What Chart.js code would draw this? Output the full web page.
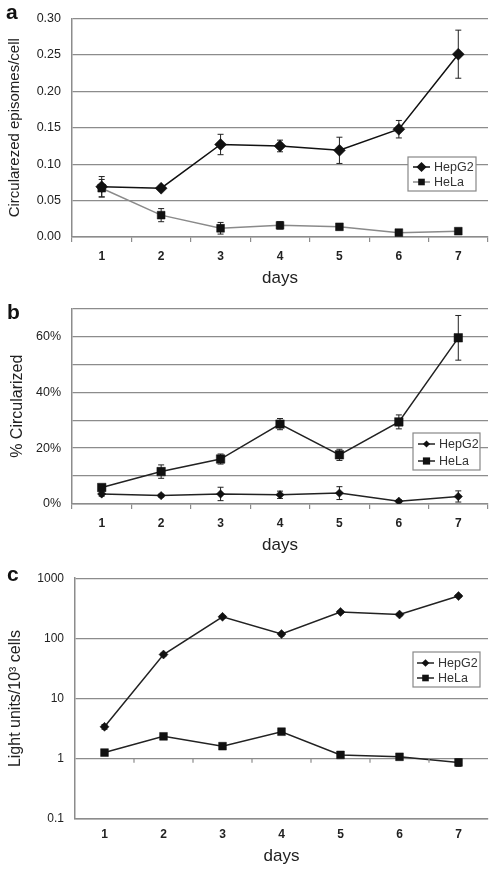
<!DOCTYPE html>
<html>
<head>
<meta charset="utf-8">
<script src="https://cdn.jsdelivr.net/npm/chart.js@4.4.0/dist/chart.umd.min.js"></script>
<style>
  body { margin: 0; background: #fff; width: 495px; height: 874px; overflow: hidden; position: relative; font-family: 'Liberation Sans', Arial, sans-serif; }
  .panel { position: absolute; left: 0; width: 495px; }
  .tag { position: absolute; font-weight: bold; font-size: 21px; line-height: 1; color: #111; }
</style>
</head>
<body>
<div class="panel" style="top:0;height:290px"><canvas id="chartA"></canvas></div>
<div class="panel" style="top:290px;height:270px"><canvas id="chartB"></canvas></div>
<div class="panel" style="top:560px;height:314px"><canvas id="chartC"></canvas></div>
<div class="tag" style="left:6px;top:1px">a</div>
<div class="tag" style="left:7px;top:301px">b</div>
<div class="tag" style="left:7px;top:563px">c</div>
<script>
const days = ['1', '2', '3', '4', '5', '6', '7'];

// a: circularized episomes per cell
const hepg2Episomes = [0.069, 0.067, 0.127, 0.125, 0.119, 0.148, 0.251];
const hepg2EpisomesErr = [0.014, 0.003, 0.014, 0.008, 0.018, 0.012, 0.033];
const helaEpisomes = [0.067, 0.030, 0.012, 0.016, 0.014, 0.006, 0.008];
const helaEpisomesErr = [0.012, 0.009, 0.008, 0.005, 0.004, 0.003, 0.002];

// b: % circularized
const hepg2Circ = [3.6, 3.0, 3.6, 3.3, 3.9, 1.0, 2.7];
const hepg2CircErr = [0.8, 0.5, 2.4, 1.3, 2.3, 0.5, 2.0];
const helaCirc = [5.9, 11.6, 16.1, 28.6, 17.6, 29.4, 59.5];
const helaCircErr = [0.8, 2.4, 1.8, 2.0, 2.0, 2.5, 8.0];

// c: light units / 10^3 cells (log)
const hepg2Light = [3.4, 54, 228, 118, 275, 249, 505];
const hepg2LightErr = [0.3, 3, 12, 8, 15, 12, 25];
const helaLight = [1.27, 2.36, 1.62, 2.82, 1.16, 1.08, 0.87];
const helaLightErr = [0.08, 0.15, 0.1, 0.15, 0.1, 0.06, 0.12];
const lightTicks = [0.1, 1, 10, 100, 1000];

const FONT = "'Liberation Sans', Arial, sans-serif";
const GRID = '#8c8c8c';
const TEXT = '#222';

function markerPath(ctx, style, x, y, r) {
  ctx.beginPath();
  if (style === 'rectRot') {
    ctx.moveTo(x, y - r); ctx.lineTo(x + r, y); ctx.lineTo(x, y + r); ctx.lineTo(x - r, y);
  } else {
    const s = r * Math.SQRT1_2;
    ctx.rect(x - s, y - s, 2 * s, 2 * s);
  }
  ctx.closePath();
}

const errorBars = {
  id: 'errorBars',
  beforeDatasetsDraw(chart) {
    const ctx = chart.ctx, yScale = chart.scales.y;
    ctx.save();
    ctx.strokeStyle = '#222';
    ctx.lineWidth = 1;
    chart.data.datasets.forEach((ds, i) => {
      if (!ds.errors) return;
      chart.getDatasetMeta(i).data.forEach((pt, j) => {
        const v = ds.data[j], e = ds.errors[j];
        if (!e) return;
        const top = yScale.getPixelForValue(v + e);
        const bot = yScale.getPixelForValue(v - e);
        ctx.beginPath();
        ctx.moveTo(pt.x, top); ctx.lineTo(pt.x, bot);
        ctx.moveTo(pt.x - 3, top); ctx.lineTo(pt.x + 3, top);
        ctx.moveTo(pt.x - 3, bot); ctx.lineTo(pt.x + 3, bot);
        ctx.stroke();
      });
    });
    ctx.restore();
  }
};

const legendBox = {
  id: 'legendBox',
  afterDatasetsDraw(chart, args, o) {
    if (!o || !o.w) return;
    const ctx = chart.ctx;
    ctx.save();
    ctx.fillStyle = '#fff';
    ctx.strokeStyle = '#888';
    ctx.lineWidth = 1.2;
    ctx.fillRect(o.x, o.y, o.w, o.h);
    ctx.strokeRect(o.x, o.y, o.w, o.h);
    chart.data.datasets.forEach((ds, i) => {
      const y = o.y + o.rowTop + i * o.rowGap;
      ctx.strokeStyle = ds.borderColor;
      ctx.lineWidth = ds.borderWidth;
      ctx.beginPath();
      ctx.moveTo(o.x + o.lineX, y); ctx.lineTo(o.x + o.lineX + 17, y);
      ctx.stroke();
      ctx.fillStyle = '#111';
      markerPath(ctx, ds.pointStyle, o.x + o.lineX + 8.5, y, ds.pointRadius * 0.85);
      ctx.fill();
      ctx.fillStyle = '#333';
      ctx.font = '12.5px ' + FONT;
      ctx.textBaseline = 'middle';
      ctx.fillText(ds.label, o.x + o.textX, y + 1);
    });
    ctx.restore();
  }
};

const axisCrossTicks = {
  id: 'axisCrossTicks',
  afterDatasetsDraw(chart, args, o) {
    if (!o || o.at === undefined) return;
    const ctx = chart.ctx, xs = chart.scales.x;
    const y = chart.scales.y.getPixelForValue(o.at);
    ctx.save();
    ctx.strokeStyle = GRID;
    ctx.lineWidth = 1.2;
    ctx.beginPath();
    for (let i = 0; i < days.length - 1; i++) {
      const x = (xs.getPixelForValue(i) + xs.getPixelForValue(i + 1)) / 2;
      ctx.moveTo(x, y); ctx.lineTo(x, y + 4);
    }
    ctx.stroke();
    ctx.restore();
  }
};

function series(label, data, errors, style, radius, color) {
  return {
    label: label, data: data, errors: errors,
    borderColor: color, borderWidth: 1.5,
    pointStyle: style, pointRadius: radius,
    pointBackgroundColor: '#111', pointBorderColor: '#111', pointBorderWidth: 0.5,
    tension: 0, fill: false
  };
}

function makePanel(id, datasets, o) {
  const xGrid = { drawOnChartArea: false, offset: true, color: GRID, lineWidth: 1.2 };
  if (o.tickLength) { xGrid.tickLength = o.tickLength; } else { xGrid.drawTicks = false; }
  return new Chart(document.getElementById(id), {
    type: 'line',
    data: { labels: days, datasets: datasets },
    plugins: [errorBars, legendBox, axisCrossTicks],
    options: {
      responsive: true, maintainAspectRatio: false, animation: false,
      layout: { padding: o.padding },
      plugins: {
        legend: { display: false }, tooltip: { enabled: false },
        legendBox: o.legend, axisCrossTicks: o.cross || {}
      },
      scales: {
        x: {
          offset: true,
          grid: xGrid,
          border: { color: GRID, width: 1.5 },
          ticks: { padding: o.xPad, color: TEXT, maxRotation: 0, font: { family: FONT, size: 12, weight: 'bold' } },
          title: { display: true, text: 'days', color: TEXT, font: { family: FONT, size: 17 }, padding: { top: 0, bottom: o.daysPad } },
          afterFit: s => { s.height = o.xHeight; }
        },
        y: Object.assign({
          grid: { color: GRID, lineWidth: 1.3, drawTicks: false },
          border: { color: GRID, width: 1.5 },
          title: { display: true, text: o.yTitle, color: TEXT, font: { family: FONT, size: o.yTitleSize }, padding: { top: o.yTitlePad, bottom: 0 } },
          afterFit: s => { s.width = o.yWidth; }
        }, o.y)
      }
    }
  });
}

makePanel('chartA', [
  series('HepG2', hepg2Episomes, hepg2EpisomesErr, 'rectRot', 6, '#111'),
  series('HeLa', helaEpisomes, helaEpisomesErr, 'rect', 5.5, '#8a8a8a')
], {
  padding: { top: 12, right: 7, left: 0, bottom: 0 },
  tickLength: 5, xPad: 7, daysPad: 1, xHeight: 53, yWidth: 72,
  yTitle: 'Circularezed episomes/cell', yTitleSize: 15, yTitlePad: 6,
  legend: { x: 408, y: 157, w: 68, h: 34, rowTop: 10, rowGap: 15, lineX: 5, textX: 26 },
  y: {
    min: 0, max: 0.3,
    ticks: { stepSize: 0.05, padding: 11, color: TEXT, font: { family: FONT, size: 12.5 }, callback: v => v.toFixed(2) }
  }
});

makePanel('chartB', [
  series('HepG2', hepg2Circ, hepg2CircErr, 'rectRot', 4.2, '#222'),
  series('HeLa', helaCirc, helaCircErr, 'rect', 6, '#222')
], {
  padding: { top: 17, right: 7, left: 0, bottom: 0 },
  tickLength: 5, xPad: 7, daysPad: 4, xHeight: 56, yWidth: 72,
  yTitle: '% Circularized', yTitleSize: 16, yTitlePad: 8,
  legend: { x: 413, y: 143, w: 67, h: 37, rowTop: 11, rowGap: 17, lineX: 5, textX: 26 },
  y: {
    min: 0, max: 70,
    ticks: { stepSize: 10, padding: 11, color: TEXT, font: { family: FONT, size: 12.5 }, callback: v => (v % 20 === 0 ? v + '%' : '') }
  }
});

makePanel('chartC', [
  series('HepG2', hepg2Light, hepg2LightErr, 'rectRot', 4.5, '#222'),
  series('HeLa', helaLight, helaLightErr, 'rect', 5.5, '#222')
], {
  padding: { top: 16, right: 7, left: 0, bottom: 0 },
  tickLength: 0, xPad: 8, daysPad: 7, xHeight: 55, yWidth: 75,
  yTitle: 'Light units/10\u00b3 cells', yTitleSize: 16, yTitlePad: 6,
  legend: { x: 413, y: 92, w: 67, h: 35, rowTop: 11, rowGap: 15, lineX: 4, textX: 25 },
  cross: { at: 1 },
  y: {
    type: 'logarithmic', min: 0.1, max: 1000,
    afterBuildTicks: s => { s.ticks = lightTicks.map(v => ({ value: v })); },
    ticks: { padding: 11, color: TEXT, font: { family: FONT, size: 12 }, callback: v => String(v) }
  }
});
</script>
</body>
</html>
